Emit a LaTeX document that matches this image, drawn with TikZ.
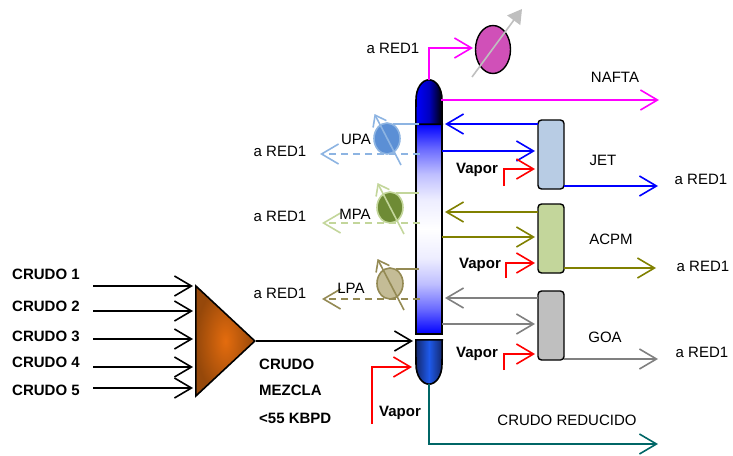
\documentclass[tikz,border=0pt]{standalone}
\usepackage{fontspec}
\setmainfont{Liberation Sans}
\usetikzlibrary{arrows.meta,shapes.geometric}

\xdefinecolor{nafta}{RGB}{255, 0, 255}
\xdefinecolor{jet}{RGB}{0, 0, 255}
\xdefinecolor{acpm}{RGB}{128, 128, 0}
\xdefinecolor{goa}{RGB}{128, 128, 128}
\xdefinecolor{reducido}{RGB}{0, 102, 102}
\xdefinecolor{upa}{RGB}{141, 180, 226}
\xdefinecolor{mpa}{RGB}{195, 214, 155}
\xdefinecolor{lpa}{RGB}{148, 138, 84}
\xdefinecolor{jetfill}{RGB}{184, 204, 228}
\xdefinecolor{goafill}{RGB}{191, 191, 191}
\xdefinecolor{upafill}{RGB}{91, 143, 213}
\xdefinecolor{mpafill}{RGB}{110, 139, 53}
\xdefinecolor{lpafill}{RGB}{196, 188, 150}
\xdefinecolor{pumpfill}{RGB}{208, 80, 184}
\xdefinecolor{mixin}{RGB}{228, 108, 14}
\xdefinecolor{mixout}{RGB}{150, 72, 10}
\xdefinecolor{capmid}{RGB}{30, 90, 235}
\xdefinecolor{capedge}{RGB}{20, 40, 110}

\pgfdeclareverticalshading{towershade}{100bp}{
    rgb(0bp)=(0,0,1); rgb(25bp)=(0,0,1); rgb(31bp)=(.42,.42,1); rgb(37bp)=(.75,.75,1); rgb(43bp)=(.93,.93,1); rgb(50bp)=(1,1,1);
    rgb(57bp)=(.93,.93,1); rgb(63bp)=(.75,.75,1); rgb(69bp)=(.42,.42,1); rgb(75bp)=(0,0,1); rgb(100bp)=(0,0,1)}

\tikzset{
    barb/.style={-{Straight Barb[length=17pt,width=20pt,line width=1.6pt]}, line width=1.6pt},
    smallbarb/.style={-{Straight Barb[length=10pt,width=15pt,line width=1.6pt]}, line width=1.6pt},
    txt/.style={font=\fontsize{15}{17}\selectfont, text=black, inner sep=0pt},
    bold/.style={txt, font=\fontsize{15}{17}\selectfont\bfseries},
    stripper/.style={draw, line width=1.4pt, rounded corners=3.5pt, minimum width=26pt, minimum height=69pt, inner sep=0pt},
    pumpa/.style={ellipse, inner sep=0pt, minimum width=26pt, minimum height=31pt, line width=1.6pt},
    capnode/.style={minimum width=26pt, minimum height=44pt, inner sep=0pt},
}

\begin{document}
\begin{tikzpicture}[x=1pt,y=-1pt]
            \useasboundingbox (0,0) rectangle (733,455);

            % Draw column in the center
            \node[draw, line width=1.6pt, inner sep=0pt, minimum width=26pt, minimum height=210pt,
                shading=towershade] (Column) at (429, 229) {};
            \node[capnode] (TopCap) at (429, 102) {};
            \draw[line width=1.6pt, left color=blue, right color=black, middle color=blue!75!black]
                (TopCap.south west) -- (416, 100) .. controls (416, 88) and (422, 80) .. (TopCap.north)
                .. controls (436, 80) and (442, 88) .. (442, 100) -- (TopCap.south east) -- cycle;
            \node[capnode] (BotCap) at (429, 362) {};
            \draw[line width=1.6pt, left color=capedge, right color=capedge, middle color=capmid]
                (BotCap.north west) -- (416, 364) .. controls (416, 376) and (422, 384) .. (BotCap.south)
                .. controls (436, 384) and (442, 376) .. (442, 364) -- (BotCap.north east) -- cycle;

            % Draw mixer and crude feeds on the left
            \node[isosceles triangle, isosceles triangle apex angle=86, anchor=apex, draw, line width=1.6pt, inner sep=0pt,
                minimum height=59pt, inner color=mixin, outer color=mixout] (Mixer) at (256, 341) {};
            \foreach \y/\ty [count=\i] in {286/274.5, 311/306.5, 339/336.5, 367/362.5, 388/390} {
                    \node[bold, anchor=west] (Crudo\i) at (12, \ty) {CRUDO \i};
                    \coordinate (In\i) at (93, \y);
                    \coordinate (Out\i) at (193, \y);
                    \draw[barb] (In\i) -- (Out\i);
                }
            \coordinate (Feed) at (413, 341);
            \draw[barb] (Mixer.apex) -- (Feed);
            \node[bold, anchor=west] (Mezcla1) at (259, 364) {CRUDO};
            \node[bold, anchor=west] (Mezcla2) at (259, 390) {MEZCLA};
            \node[bold, anchor=west] (Mezcla3) at (259, 418) {<55 KBPD};

            % Draw strippers on the right
            \node[stripper, fill=jetfill] (Jet) at (551, 154.5) {};
            \node[stripper, fill=mpa] (Acpm) at (551, 238.5) {};
            \node[stripper, fill=goafill] (Goa) at (551, 325.5) {};

            % Add lines to and from the strippers
            \foreach \name/\col/\ret/\dra/\vap/\vx/\vend/\out/\tip in {
                Jet/jet/124/151/169/504/186/186/658,
                Acpm/acpm/212/237/263/506/278/268/656,
                Goa/goa/298/324/354/504/370/359/658} {
                    \coordinate (\name-ret) at (445, \ret);
                    \coordinate (\name-a) at (538, \ret);
                    \coordinate (\name-dra) at (442, \dra);
                    \coordinate (\name-b) at (535, \dra);
                    \coordinate (\name-v) at (\vx, \vend);
                    \coordinate (\name-c) at (535, \vap);
                    \coordinate (\name-o) at (564, \out);
                    \coordinate (\name-e) at (\tip, \out);
                    \draw[barb, \col] (\name-a) -- (\name-ret);
                    \draw[barb, \col] (\name-dra) -- (\name-b);
                    \draw[barb, red] (\name-v) |- (\name-c);
                    \draw[barb, \col] (\name-o) -- (\name-e);
                }

            % Draw pumparounds on the left
            \foreach \name/\col/\body/\cx/\cy/\ty/\dy/\ax in {
                Upa/upa/upafill/387/138.5/124/154/320,
                Mpa/mpa/mpafill/390/207.5/193/223/322,
                Lpa/lpa/lpafill/390/283.5/269/299/322} {
                    \node[pumpa, draw=\col, fill=\body] (\name) at (\cx, \cy) {};
                    \coordinate (\name-s) at (\cx+6, \ty);
                    \coordinate (\name-r) at (419, \ty);
                    \draw[\col, line width=1.6pt] (\name-s) -- (\name-r);
                    \coordinate (\name-d) at (420, \dy);
                    \coordinate (\name-l) at (\ax, \dy);
                    \draw[barb, \col, dash pattern=on 7pt off 5pt] (\name-d) -- (\name-l);
                    \coordinate (\name-x) at (\cx+14, \cy+26.5);
                    \coordinate (\name-y) at (\cx-12.5, \cy-24.5);
                    \draw[smallbarb, \col] (\name-x) -- (\name-y);
                }
            \node[txt] (UpaText) at (356, 139.5) {UPA};
            \node[txt] (MpaText) at (355, 214.5) {MPA};
            \node[txt] (LpaText) at (351, 288.5) {LPA};

            % Add naphtha lines and top pump
            \node[ellipse, draw, line width=1.4pt, inner sep=0pt, minimum width=35pt, minimum height=48pt,
                fill=pumpfill] (Pump) at (493, 49.5) {};
            \coordinate (GaugeA) at (472, 77);
            \coordinate (GaugeB) at (522, 9);
            \draw[line width=1.6pt, gray!50, -{Triangle[length=14pt,width=16pt]}] (GaugeA) -- (GaugeB);
            \coordinate (PumpIn) at (473, 48);
            \draw[barb, nafta] (TopCap.north) |- (PumpIn);
            \coordinate (NaftaA) at (441, 100);
            \coordinate (NaftaB) at (659, 100);
            \draw[barb, nafta] (NaftaA) -- (NaftaB);

            % Add bottom lines
            \coordinate (VapA) at (372, 424);
            \coordinate (VapB) at (412, 367);
            \draw[barb, red] (VapA) |- (VapB);
            \coordinate (ReduB) at (658, 444);
            \draw[barb, reducido] (BotCap.south) |- (ReduB);

            % Texts
            \node[txt] (RedTop) at (393, 48.5) {a RED1};
            \node[txt] (RedUpa) at (280, 151.5) {a RED1};
            \node[txt] (RedMpa) at (280, 216.5) {a RED1};
            \node[txt] (RedLpa) at (280, 293.5) {a RED1};
            \node[txt] (RedJet) at (701, 179.5) {a RED1};
            \node[txt] (RedAcpm) at (703, 266.5) {a RED1};
            \node[txt] (RedGoa) at (702, 352.5) {a RED1};
            \node[txt] (Nafta) at (615, 77) {NAFTA};
            \node[txt] (JetText) at (603, 160) {JET};
            \node[txt] (AcpmText) at (611, 239) {ACPM};
            \node[txt] (GoaText) at (605, 337) {GOA};
            \node[txt] (Reducido) at (567, 420.5) {CRUDO REDUCIDO};
            \node[bold] (VaporJet) at (477, 170) {Vapor};
            \node[bold] (VaporAcpm) at (480, 265) {Vapor};
            \node[bold] (VaporGoa) at (477, 354) {Vapor};
            \node[bold] (VaporBot) at (400, 413) {Vapor};

        \end{tikzpicture}
\end{document}
